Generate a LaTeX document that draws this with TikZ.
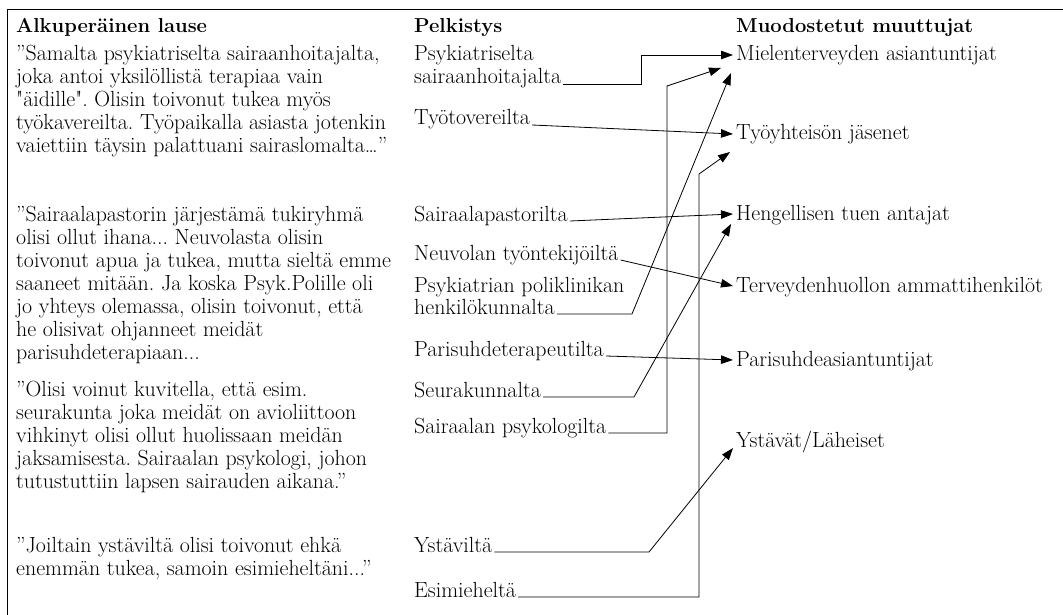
\documentclass[tikz,border=0pt]{standalone}
\usetikzlibrary{arrows.meta}
\begin{document}
\begin{tikzpicture}[x=1pt,y=-1pt,
  txt/.style={anchor=base west,inner sep=0pt,font=\fontsize{21.9}{26}\selectfont\frenchspacing},
  hdr/.style={anchor=base west,inner sep=0pt,font=\fontsize{20.2}{24}\selectfont\bfseries},
  conn/.style={line width=0.8pt,line join=miter},
  arr/.style={conn,-{Triangle[length=12pt,width=8.5pt]}}]
\useasboundingbox (0,0) rectangle (1063,615);
\draw[line width=1pt] (7,615) -- (7,10) -- (1063,10);
% headers
\node[hdr] (h1) at (16,33) {Alkuperäinen lause};
\node[hdr] (h2) at (414,33) {Pelkistys};
\node[hdr] (h3) at (736,33) {Muodostetut muuttujat};
% column 1
\node[txt] (p11) at (16,61) {”Samalta psykiatriselta sairaanhoitajalta,};
\node[txt] (p12) at (16,84) {joka antoi yksilöllistä terapiaa vain};
\node[txt] (p13) at (16,107) {\textquotedbl äidille\textquotedbl. Olisin toivonut tukea myös};
\node[txt] (p14) at (16,130) {työkavereilta. Työpaikalla asiasta jotenkin};
\node[txt] (p15) at (16,153) {vaiettiin täysin palattuani sairaslomalta…”};
\node[txt] (p21) at (16,221) {”Sairaalapastorin järjestämä tukiryhmä};
\node[txt] (p22) at (16,244) {olisi ollut ihana... Neuvolasta olisin};
\node[txt] (p23) at (16,267) {toivonut apua ja tukea, mutta sieltä emme};
\node[txt] (p24) at (16,290) {saaneet mitään. Ja koska Psyk.Polille oli};
\node[txt] (p25) at (16,313) {jo yhteys olemassa, olisin toivonut, että};
\node[txt] (p26) at (16,336) {he olisivat ohjanneet meidät};
\node[txt] (p27) at (16,359) {parisuhdeterapiaan...};
\node[txt] (p31) at (16,396) {”Olisi voinut kuvitella, että esim.};
\node[txt] (p32) at (16,419) {seurakunta joka meidät on avioliittoon};
\node[txt] (p33) at (16,442) {vihkinyt olisi ollut huolissaan meidän};
\node[txt] (p34) at (16,465) {jaksamisesta. Sairaalan psykologi, johon};
\node[txt] (p35) at (16,488) {tutustuttiin lapsen sairauden aikana.”};
\node[txt] (p41) at (16,552) {”Joiltain ystäviltä olisi toivonut ehkä};
\node[txt] (p42) at (16,575) {enemmän tukea, samoin esimieheltäni...”};
% column 2
\node[txt] (a1) at (414,61) {Psykiatriselta};
\node[txt] (a1b) at (414,84) {sairaanhoitajalta};
\node[txt] (a2) at (414,125) {Työtovereilta};
\node[txt] (a3) at (414,221) {Sairaalapastorilta};
\node[txt] (a4) at (414,260) {Neuvolan työntekijöiltä};
\node[txt] (a5) at (414,292) {Psykiatrian poliklinikan};
\node[txt] (a5b) at (414,314) {henkilökunnalta};
\node[txt] (a6) at (414,356) {Parisuhdeterapeutilta};
\node[txt] (a7) at (414,397) {Seurakunnalta};
\node[txt] (a8) at (414,433) {Sairaalan psykologilta};
\node[txt] (a9) at (414,552) {Ystäviltä};
\node[txt] (a10) at (414,597) {Esimieheltä};
% column 3
\node[txt] (b1) at (736,61) {Mielenterveyden asiantuntijat};
\node[txt] (b2) at (736,140) {Työyhteisön jäsenet};
\node[txt] (b3) at (736,220) {Hengellisen tuen antajat};
\node[txt] (b4) at (736,292) {Terveydenhuollon ammattihenkilöt};
\node[txt] (b5) at (736,366) {Parisuhdeasiantuntijat};
\node[txt] (b6) at (736,447) {Ystävät/Läheiset};
% connectors
\draw[arr] ([xshift=2pt]a1b.base east) -| (641,55) -- ([shift={(-3pt,6pt)}]b1.base west);
\draw[arr] ([xshift=2pt]a2.base east) -- ([shift={(-3pt,6pt)}]b2.base west);
\draw[arr] ([xshift=2pt]a3.base east) -- ([shift={(-3pt,6pt)}]b3.base west);
\draw[arr] ([xshift=2pt]a4.base east) -- ([shift={(-3pt,6pt)}]b4.base west);
\draw[arr] ([xshift=2pt]a5b.base east) -- (632,314) -- ([shift={(-5pt,-12pt)}]b1.base west);
\draw[arr] ([xshift=2pt]a6.base east) -- ([shift={(-3pt,6pt)}]b5.base west);
\draw[arr] ([xshift=2pt]a7.base east) -- (634,397) -- ([shift={(-5pt,-4pt)}]b3.base west);
\draw[arr] ([xshift=2pt]a8.base east) -| (667,86) -- ([shift={(-15pt,-7pt)}]b1.base west);
\draw[arr] ([xshift=2pt]a9.base east) -- (649,552) -- ([shift={(-3pt,-1pt)}]b6.base west);
\draw[arr] ([xshift=2pt]a10.base east) -| (699,174) -- ([shift={(-6pt,-12pt)}]b2.base west);
\end{tikzpicture}
\end{document}
